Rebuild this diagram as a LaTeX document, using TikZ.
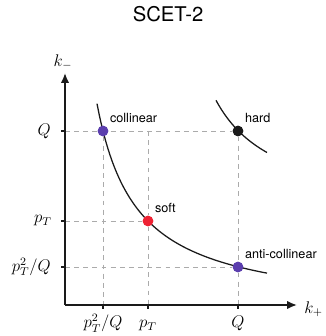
\documentclass[tikz,border=0pt]{standalone}
\usepackage{amsmath}
\usepackage{fontspec}
\setsansfont{TeX Gyre Heros}
\usetikzlibrary{arrows.meta, positioning}
\definecolor{sgray}{HTML}{ABABAB}
\definecolor{spurple}{HTML}{5B3EAE}
\definecolor{sred}{HTML}{EE2233}
\definecolor{sdark}{HTML}{1A1A1A}
\tikzset{
  axisline/.style={line width=1.3pt, sdark, -{Latex[length=7pt, width=6pt]}},
  guide/.style={sgray, dash pattern=on 3.5pt off 3pt, line width=0.6pt},
  tickmark/.style={line width=1pt, sdark},
  modeline/.style={line width=0.9pt, sdark},
  modedot/.style={circle, inner sep=0pt, minimum size=7.5pt},
  modelabel/.style={font=\sffamily\small, inner sep=1pt},
  ticklabel/.style={font=\large, inner sep=0pt},
}

\begin{document}
\begin{tikzpicture}[x=0.025cm, y=0.025cm]
  \useasboundingbox (-65,-31) rectangle (261,305);

  %% Title
  \node[font=\sffamily\Large] (title) at (103,291) {SCET-2};

  %% Axes
  \coordinate (O) at (0,0);
  \coordinate (xend) at (232,0);
  \coordinate (yend) at (0,232);
  \node[ticklabel] (kminus) at (-2,243) {$k_-$};
  \node[ticklabel, anchor=west] (kplus) at (239,-4) {$k_+$};

  %% Tick positions
  \coordinate (xa) at (38,0);
  \coordinate (xb) at (83,0);
  \coordinate (xc) at (173,0);
  \coordinate (ya) at (0,38);
  \coordinate (yb) at (0,84);
  \coordinate (yc) at (0,174);

  %% Modes
  \node[modedot, fill=spurple] (col)  at (38,174) {};
  \node[modedot, fill=sred]    (soft) at (83,84) {};
  \node[modedot, fill=spurple] (anti) at (173,38) {};
  \node[modedot, fill=sdark]   (hard) at (173,174) {};

  %% Guides
  \draw[guide] (yc) -- (hard);
  \draw[guide] (yb) -- (soft);
  \draw[guide] (ya) -- (anti);
  \draw[guide] (col) -- (xa);
  \draw[guide] (83,174) -- (soft);
  \draw[guide] (soft) -- (xb);
  \draw[guide] (hard) -- (anti);
  \draw[guide] (anti) -- (xc);

  %% Hyperbolas
  \draw[modeline] plot[domain=32:202, samples=80, smooth] (\x, {8372/(\x+8)-8});
  \draw[modeline] plot[domain=151:202, samples=40, smooth] (\x, {7353/(\x-88)+88});

  %% redraw dots on top
  \foreach \m/\c in {col/spurple, soft/sred, anti/spurple, hard/sdark}
    \fill[\c] (\m) circle (3.75pt);

  \draw[axisline] (O) -- (xend);
  \draw[axisline] (O) -- (yend);
  \foreach \t in {xa, xb, xc}
    \draw[tickmark] (\t) -- ++(0,-4);
  \foreach \t in {ya, yb, yc}
    \draw[tickmark] (\t) -- ++(-4,0);

  %% Tick labels
  \node[ticklabel, anchor=base] (lxa) at (38,-23) {$p_T^2/Q$};
  \node[ticklabel, anchor=base] (lxb) at (83,-23) {$p_T$};
  \node[ticklabel, anchor=base] (lxc) at (173,-23) {$Q$};
  \node[ticklabel, anchor=east] (lya) at (-14,38) {$p_T^2/Q$};
  \node[ticklabel, anchor=east] (lyb) at (-13,84) {$p_T$};
  \node[ticklabel, anchor=east] (lyc) at (-14,174) {$Q$};

  %% Mode labels
  \node[modelabel, above right=2pt and 1pt of col]  (lcol)  {collinear};
  \node[modelabel, above right=2pt and 1pt of soft] (lsoft) {soft};
  \node[modelabel, above right=2pt and 1pt of anti] (lanti) {anti-collinear};
  \node[modelabel, above right=2pt and 1pt of hard] (lhard) {hard};
\end{tikzpicture}
\end{document}
